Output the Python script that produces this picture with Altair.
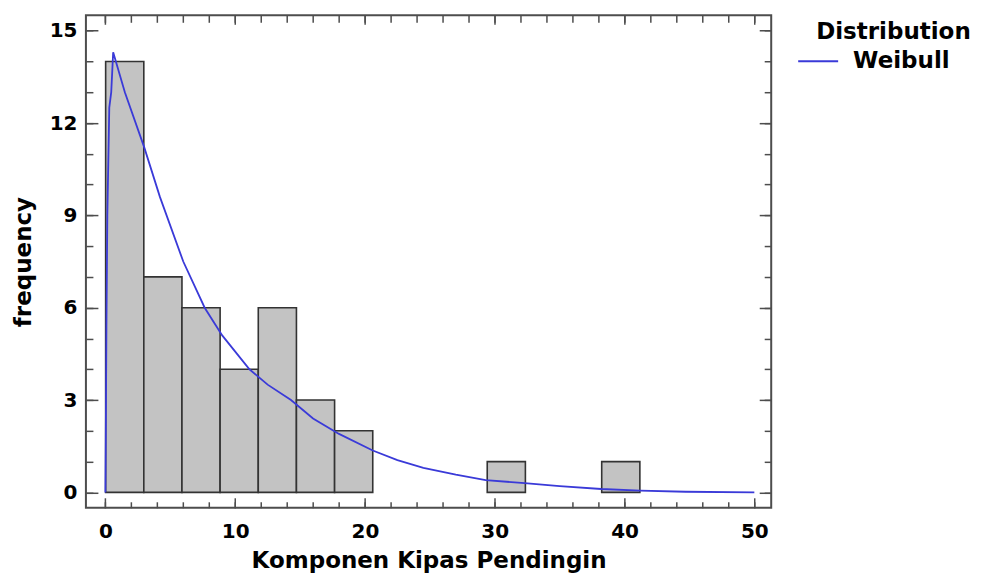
import altair as alt
import pandas as pd

# ---- data ----
bin_start = [0.02, 2.96, 5.90, 8.84, 11.78, 14.72, 17.66, 29.42, 38.24]
bin_end = [2.96, 5.90, 8.84, 11.78, 14.72, 17.66, 20.60, 32.36, 41.18]
bin_count = [14, 7, 6, 4, 6, 3, 2, 1, 1]

curve_x = [0.0, 0.03, 0.08, 0.15, 0.30, 0.45, 0.60, 1.5, 3.0, 4.2, 6.0, 7.65,
           9.0, 11.1, 12.5, 14.3, 16.0, 18.0, 20.6, 22.5, 24.5, 27.0, 29.3,
           32.3, 35.0, 38.2, 41.2, 44.7, 50.0]
curve_y = [0.0, 1.8, 5.4, 9.0, 12.5, 13.0, 14.3, 13.0, 11.2, 9.6, 7.5, 6.0,
           5.1, 4.0, 3.5, 3.0, 2.4, 1.9, 1.36, 1.05, 0.8, 0.58, 0.4,
           0.3, 0.2, 0.11, 0.06, 0.02, 0.0]
series_name = ["Weibull"] * len(curve_x)

x_labels = [0, 10, 20, 30, 40, 50]
x_minor = list(range(0, 51, 2))
y_labels = [0, 3, 6, 9, 12, 15]
y_minor = list(range(0, 16, 1))

FONT = "DejaVu Sans"
FRAME = "#4d4d4d"
LINE = "#3a3ad8"

bars_df = pd.DataFrame({"start": bin_start, "end": bin_end, "count": bin_count})
curve_df = pd.DataFrame({"x": curve_x, "y": curve_y, "dist": series_name})

xscale = alt.Scale(domain=[-1.5, 51.3], nice=False, zero=False)
yscale = alt.Scale(domain=[-0.5, 15.5], nice=False, zero=False)


def tick_axis(orient, values, size):
    return alt.Axis(orient=orient, values=values, labels=False, ticks=True,
                    tickSize=size, offset=-size, domain=False, grid=False,
                    title=None, tickColor=FRAME, tickWidth=1.5)


x_label_axis = alt.Axis(orient="bottom", values=x_labels, ticks=False, domain=False,
                        grid=False, labelPadding=14, labelFontSize=20,
                        labelFont=FONT, labelFontWeight="bold", labelColor="black",
                        title="Komponen Kipas Pendingin", titleFontSize=23,
                        titleFont=FONT, titleFontWeight="bold", titleColor="black",
                        titlePadding=8, format="d")
y_label_axis = alt.Axis(orient="left", values=y_labels, ticks=False, domain=False,
                        grid=False, labelPadding=9, labelFontSize=20,
                        labelFont=FONT, labelFontWeight="bold", labelColor="black",
                        title="frequency", titleFontSize=23,
                        titleFont=FONT, titleFontWeight="bold", titleColor="black",
                        titlePadding=14, format="d")

bars = alt.Chart(bars_df).mark_rect(color="#c3c3c3", stroke="#333333", strokeWidth=1.6).encode(
    x=alt.X("start:Q", scale=xscale, axis=x_label_axis),
    x2="end:Q",
    y=alt.Y("count:Q", scale=yscale, axis=y_label_axis),
    y2=alt.datum(0),
)

curve = alt.Chart(curve_df).mark_line(strokeWidth=1.8).encode(
    x=alt.X("x:Q", scale=xscale, axis=tick_axis("bottom", x_labels, 10)),
    y=alt.Y("y:Q", scale=yscale, axis=tick_axis("left", y_labels, 12)),
    color=alt.Color("dist:N", scale=alt.Scale(range=[LINE]),
                    legend=alt.Legend(title=None, orient="none", legendX=712, legendY=25,
                                      symbolType="stroke", symbolSize=1600,
                                      symbolStrokeWidth=2, labelFont=FONT,
                                      labelFontSize=23, labelFontWeight="bold",
                                      labelColor="black", labelOffset=14)),
)


def ghost(xa, ya):
    return alt.Chart(curve_df).mark_point(opacity=0).encode(
        x=alt.X("x:Q", scale=xscale, axis=xa),
        y=alt.Y("y:Q", scale=yscale, axis=ya),
    )


g1 = ghost(tick_axis("bottom", x_minor, 6), tick_axis("left", y_minor, 7))
g2 = ghost(tick_axis("top", x_labels, 9), tick_axis("right", y_labels, 12))
g3 = ghost(tick_axis("top", x_minor, 7), tick_axis("right", y_minor, 7))

chart = alt.layer(bars, curve, g1, g2, g3).resolve_axis(
    x="independent", y="independent"
).properties(
    width=686,
    height=493,
    background="white",
    padding={"left": 78, "top": 7, "right": 202, "bottom": 65},
    autosize=alt.AutoSizeParams(type="none"),
    title=alt.Title("Distribution", anchor="start", frame="group", dx=731, dy=47,
                    offset=0, baseline="alphabetic", fontSize=23, font=FONT,
                    fontWeight="bold", color="black"),
).configure_view(
    stroke=FRAME, strokeWidth=2
)

chart.save("out.html", embed_options={"renderer": "svg", "actions": False})
